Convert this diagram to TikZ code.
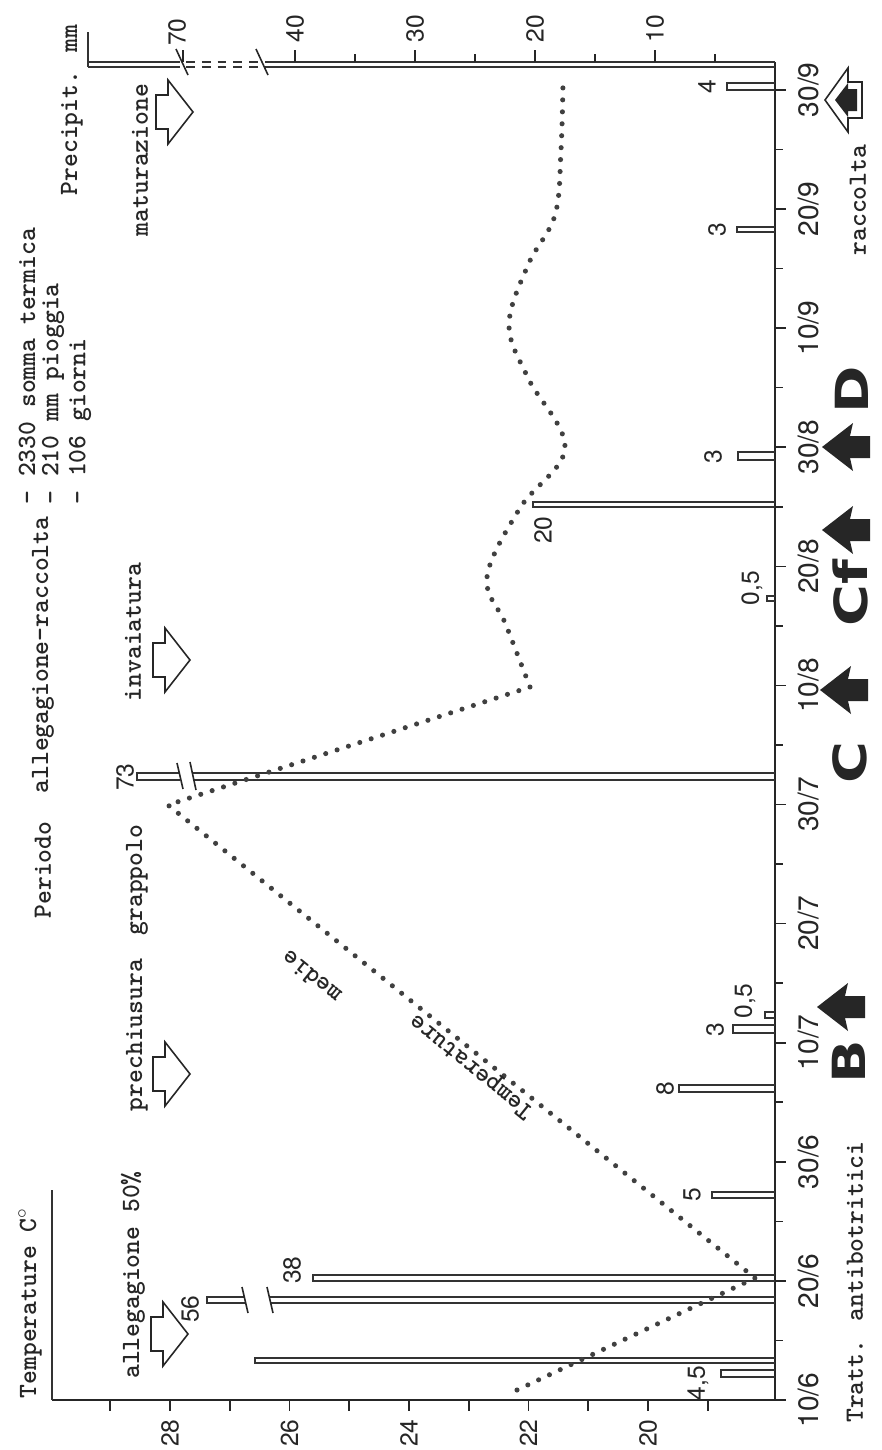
\documentclass[tikz,border=0pt]{standalone}
\usepackage{fontspec}
\setsansfont{TeX Gyre Heros}
\newfontfamily\trattfont[FakeStretch=1.25]{DejaVu Sans}
\usetikzlibrary{positioning}
\usetikzlibrary{calc}

\begin{document}
\begin{tikzpicture}[x=0.02cm, y=-0.02cm,
			axis/.style = {line width=1.6pt, black!85},
			bar/.style = {line width=0.6pt, black!80},
			tick/.style = {line width=0.9pt, black!85},
			tw/.style = {rotate=90, inner sep=0pt, text=black!85,
				font=\fontsize{15}{18}\selectfont\ttfamily\bfseries},
			num/.style = {rotate=90, inner sep=0pt, text=black!85,
				font=\fontsize{14}{16}\selectfont\sffamily},
			dat/.style = {rotate=90, inner sep=0pt, text=black!85,
				font=\fontsize{16}{18}\selectfont\sffamily},
			lett/.style = {rotate=90, inner sep=0pt, text=black!85,
				font=\fontsize{26}{28}\selectfont\trattfont\bfseries},
			fase/.style = {line width=0.9pt, black!85},
			temp/.style = {line width=2.9pt, black!75, line cap=round,
				dash pattern=on 0pt off 6.8pt},
			pics/fasearrow/.style = {code={
					\draw[fase] (0,0) -- (-25,-32) -- (-25,-17) -- (-37,-17)
					-- (-37,17) -- (-25,17) -- (-25,32) -- cycle;
			}},
			pics/trattarrow/.style = {code={
					\fill[black!85] (0,0) -- (31,-24) -- (28,-11) -- (48,-11)
					-- (48,11) -- (28,11) -- (31,24) -- cycle;
			}}]
			\fill[white] (0,0) rectangle (882,1450);
			\useasboundingbox (0,0) rectangle (882,1450);
			
			% assi
			\draw[axis] (52,1400) -- (775,1400) -- (775,62);
			\draw[bar] (52,1190) -- (52,1400);
			\draw[bar] (88,32) -- (88,67);
			\foreach \yy in {62,67} {
				\draw[bar] (88,\yy) -- (180,\yy);
				\draw[bar, dash pattern=on 5pt off 4pt] (186,\yy) -- (262,\yy);
				\draw[bar] (265,\yy) -- (775,\yy);
			}
			\draw[tick] (176,49) -- (188,75);
			\draw[tick] (256,49) -- (268,75);
			\draw[tick] (183,62) -- (183,50);
			\node (p70) [num] at (177,32) {70};
			
			% temperature
			\foreach \t in {19,...,29}
			\draw[tick] ({648-(\t-20)*59.75},1400) -- ({648-(\t-20)*59.75},1411);
			\foreach \t in {20,22,...,28}
			\node (t\t) [num] at ({648-(\t-20)*59.75},1433) {\t};
			
			% precipitazioni
			\foreach \p in {5,15,...,35}
			\draw[tick] ({775-12*\p},62) -- ({775-12*\p},54);
			\foreach \p in {10,20,...,40} {
				\draw[tick] ({775-12*\p},62) -- ({775-12*\p},50);
				\node (p\p) [num] at ({775-12*\p},29) {\p};
			}
			
			% date
			\foreach \g/\m [count=\i from 0] in {10/6,20/6,30/6,10/7,20/7,30/7,
				10/8,20/8,30/8,10/9,20/9,30/9} {
				\draw[tick] (775,{1400-119.1*\i}) -- (786,{1400-119.1*\i});
				\node (d\i) [dat] at (809,{1400-119.1*\i}) {\g/\m};
			}
			\foreach \i in {0,...,10}
			\draw[tick] (775,{1400-119.1*(\i+0.5)}) -- (783,{1400-119.1*(\i+0.5)});
			
			% barre pioggia
			\foreach \ya/\yb/\xl in {1370/1377/721, 1358/1363/255, 1275/1281/313,
				1192/1198/712, 1085/1092/679, 1025/1033/733, 1012/1018/765,
				596/601/767, 502/507/533, 452/460/738, 227/232/737, 83/90/727}
			\draw[bar] (775,\ya) -- (\xl,\ya) -- (\xl,\yb) -- (775,\yb);
			% barre interrotte
			\draw[bar] (245,1297) -- (207,1297) -- (207,1303) -- (245,1303);
			\draw[bar] (270,1297) -- (775,1297);
			\draw[bar] (270,1303) -- (775,1303);
			\draw[tick] (242,1287) -- (248,1313);
			\draw[tick] (267,1287) -- (273,1313);
			\draw[bar] (180,773) -- (137,773) -- (137,780) -- (180,780);
			\draw[bar] (193,773) -- (775,773);
			\draw[bar] (193,780) -- (775,780);
			\draw[tick] (177,763) -- (183,789);
			\draw[tick] (190,762) -- (196,790);
			
			\node (b45) [num] at (698,1383) {4,5};
			\node (b56) [num] at (190,1309) {56};
			\node (b38) [num] at (292,1270) {38};
			\node (b5a) [num] at (692,1195) {5};
			\node (b8) [num] at (665,1089) {8};
			\node (b3a) [num] at (715,1030) {3};
			\node (b05a) [num] at (745,1001) {0,5};
			\node (b73) [num] at (125,777) {73};
			\node (b05b) [num] at (752,588) {0,5};
			\node (b20) [num] at (543,530) {20};
			\node (b3b) [num] at (713,457) {3};
			\node (b3c) [num] at (717,230) {3};
			\node (b4) [num] at (707,87) {4};
			
			% temperature medie
			\draw[temp] (517,1390) -- (755,1278) -- (168,805) -- (530,687);
			\draw[temp] plot[smooth, tension=0.6] coordinates {(530,687) (506,625)
				(487,577) (520,508) (565,448) (528,378) (509,325) (528,265)
				(555,215) (561,150) (563,82)};
			\node (tm1) [tw, rotate=51] at (472,1066) {Temperature};
			\node (tm2) [tw, rotate=51] at (311,977) {medie};
			
			% fasi
			\pic at (193,112) {fasearrow};
			\pic at (190,660) {fasearrow};
			\pic at (190,1074) {fasearrow};
			\pic at (188,1334) {fasearrow};
			\node (mat) [tw] at (140,160) {maturazione};
			\node (inv) [tw] at (133,632) {invaiatura};
			\node (pch) [tw] at (137,1035) {prechiusura};
			\node (gra) [tw] at (137,880) {grappolo};
			\node (all) [tw] at (133,1275) {allegagione 50\%};
			
			% titoli
			\node (tit) [tw] at (30,1303) {Temperature C$^{\circ}$};
			\node (pre) [tw] at (72,110) {Precipit. mm};
			\node (per) [tw] at (43,870) {Periodo};
			\node (ar) [tw] at (43,655) {allegagione-raccolta};
			\node (st) [tw, anchor=west] at (27,505) {- 2330 somma termica};
			\node (mm) [tw, anchor=west] at (53,505) {- 210 mm pioggia};
			\node (gg) [tw, anchor=west] at (80,505) {- 106 giorni};
			\node (tr) [tw] at (855,1282) {Tratt. antibotritici};
			\node (rac) [tw] at (858,200) {raccolta};
			
			% trattamenti
			\pic at (817,1007) {trattarrow};
			\pic at (820,690) {trattarrow};
			\pic at (822,530) {trattarrow};
			\pic at (822,447) {trattarrow};
			\node (lB) [lett] at (849,1062) {B};
			\node (lC) [lett] at (850,763) {C};
			\node (lCf) [lett] at (850,593) {Cf};
			\node (lD) [lett] at (852,390) {D};
			
			% raccolta
			\draw[fase] (825,100) -- (848,68) -- (848,82) -- (862,82) -- (862,118)
			-- (848,118) -- (848,132) -- cycle;
			\fill[black!85] (835,100) -- (848,83) -- (848,89) -- (857,89)
			-- (857,111) -- (848,111) -- (848,117) -- cycle;
		\end{tikzpicture}
\end{document}
